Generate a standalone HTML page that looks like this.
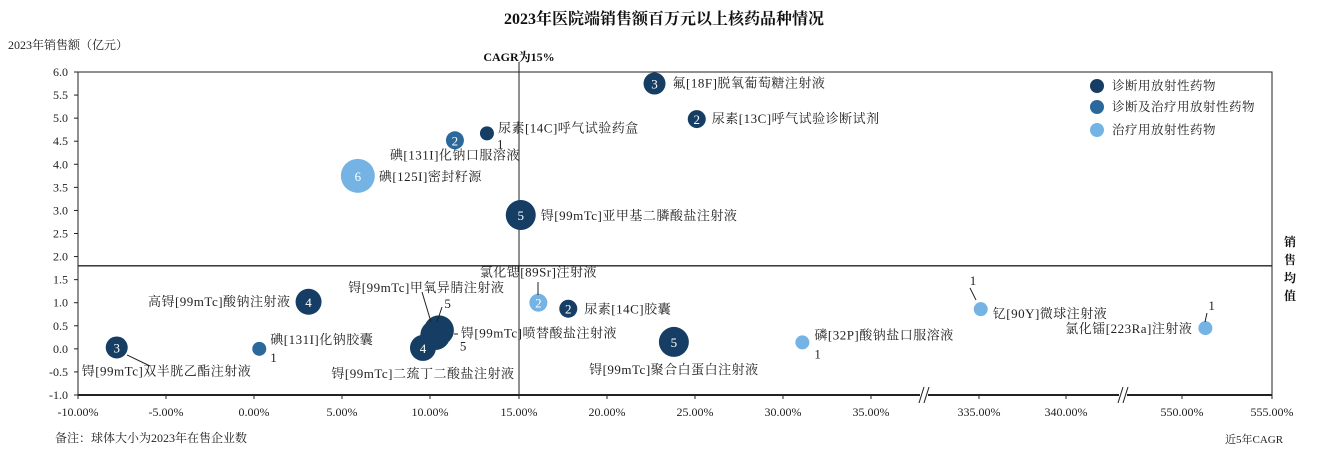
<!DOCTYPE html>
<html><head><meta charset="utf-8">
<style>
html,body{margin:0;padding:0;background:#fff;}
svg{display:block;font-family:"Liberation Serif","Noto Serif CJK SC",serif;}
</style></head>
<body>
<svg id="chart" width="1328" height="454" viewBox="0 0 1328 454" xmlns="http://www.w3.org/2000/svg">
<text x="664" y="24" text-anchor="middle" font-size="16" font-weight="bold" fill="#111">2023年医院端销售额百万元以上核药品种情况</text>
<text x="8" y="49" font-size="12" fill="#222">2023年销售额（亿元）</text>
<text x="519" y="61" text-anchor="middle" font-size="12" font-weight="bold" fill="#111">CAGR为15%</text>
<g id="axes"></g>
<g id="marks"></g>
<g>
 <circle cx="1097" cy="86" r="7" fill="#163d63"/><text x="1112" y="90" font-size="12.5" letter-spacing="0.5" fill="#222">诊断用放射性药物</text>
 <circle cx="1097" cy="107" r="7" fill="#2b689c"/><text x="1112" y="111" font-size="12.5" letter-spacing="0.5" fill="#222">诊断及治疗用放射性药物</text>
 <circle cx="1097" cy="130" r="7" fill="#74b3e3"/><text x="1112" y="134" font-size="12.5" letter-spacing="0.5" fill="#222">治疗用放射性药物</text>
</g>
<g font-size="12" font-weight="bold" fill="#111">
 <text x="1290" y="246" text-anchor="middle">销</text><text x="1290" y="264" text-anchor="middle">售</text>
 <text x="1290" y="282" text-anchor="middle">均</text><text x="1290" y="300" text-anchor="middle">值</text>
</g>
<text x="1225" y="443" font-size="11" fill="#222">近5年CAGR</text>
<text x="55" y="442" font-size="12" fill="#222">备注：球体大小为2023年在售企业数</text>
</svg>
<script>
const xTickValues=[-10,-5,0,5,10,15,20,25,30,35,335,340,550,555];
const xTickLabels=["-10.00%","-5.00%","0.00%","5.00%","10.00%","15.00%","20.00%","25.00%","30.00%","35.00%","335.00%","340.00%","550.00%","555.00%"];
const yTickValues=[-1,-0.5,0,0.5,1,1.5,2,2.5,3,3.5,4,4.5,5,5.5,6];
const names=["氟[18F]脱氧葡萄糖注射液","尿素[13C]呼气试验诊断试剂","尿素[14C]呼气试验药盒","碘[131I]化钠口服溶液","碘[125I]密封籽源","锝[99mTc]亚甲基二膦酸盐注射液","氯化锶[89Sr]注射液","尿素[14C]胶囊","高锝[99mTc]酸钠注射液","碘[131I]化钠胶囊","锝[99mTc]双半胱乙酯注射液","锝[99mTc]甲氧异腈注射液","锝[99mTc]喷替酸盐注射液","锝[99mTc]二巯丁二酸盐注射液","锝[99mTc]聚合白蛋白注射液","磷[32P]酸钠盐口服溶液","钇[90Y]微球注射液","氯化镭[223Ra]注射液"];
const cagr=[22.7,25.1,13.2,11.4,5.9,15.1,16.1,17.8,3.1,0.3,-7.8,10.3,10.5,9.6,23.8,31.1,335.1,551.3];
const sales=[5.75,4.98,4.67,4.52,3.75,2.9,1.0,0.87,1.02,0.0,0.03,0.3,0.4,0.02,0.15,0.14,0.86,0.45];
const firms=[3,2,1,2,6,5,2,2,4,1,3,5,5,4,5,1,1,1];
const types=[0,0,0,1,2,0,2,0,0,1,0,0,0,0,0,2,2,2];
const colors=["#163d63","#2b689c","#74b3e3"];
// layout: pixel x of each tick
const tickPx=[78,166,254,342,430,519,607,695,783,871,979,1066,1182,1272];
const yTop=72,yBot=395,yMin=-1,yMax=6,meanY=1.8,cagrLine=15;
function sx(v){for(let i=0;i<xTickValues.length-1;i++){const a=xTickValues[i],b=xTickValues[i+1];if(v<=b||i===xTickValues.length-2){return tickPx[i]+(v-a)/(b-a)*(tickPx[i+1]-tickPx[i]);}}}
function sy(v){return yBot-(v-yMin)/(yMax-yMin)*(yBot-yTop);}
function rr(n){return 5+n*2;}
const NS="http://www.w3.org/2000/svg";
function mk(t,p,at){const e=document.createElementNS(NS,t);for(const k in at)e.setAttribute(k,at[k]);p.appendChild(e);return e;}
const ax=document.getElementById('axes');
const x0=tickPx[0],x1=tickPx[tickPx.length-1];
let f=mk('rect',ax,{x:x0,y:yTop,width:x1-x0,height:yBot-yTop,fill:'none',stroke:'#222','stroke-width':1});


let xl=mk('line',ax,{x1:x0,x2:x1,y1:yBot,y2:yBot,stroke:'#222','stroke-width':2});


xTickValues.forEach((v,i)=>{const x=tickPx[i];
 mk('line',ax,{x1:x,x2:x,y1:yBot,y2:yBot+4,stroke:'#222'});
 const t=mk('text',ax,{x:x,y:yBot+21,'text-anchor':'middle','font-size':12,fill:'#222'});t.textContent=xTickLabels[i];
 
 
});
[(tickPx[9]+tickPx[10])/2,(tickPx[11]+tickPx[12])/2].forEach(bx=>{
 const g=mk('g',ax,{});
 
 
 mk('rect',g,{x:bx-5,y:yBot-3,width:8,height:6,fill:'#fff'});
 mk('line',g,{x1:bx-6,y1:yBot+8,x2:bx-1,y2:yBot-8,stroke:'#222'});
 mk('line',g,{x1:bx-1,y1:yBot+8,x2:bx+4,y2:yBot-8,stroke:'#222'});
});
yTickValues.forEach(v=>{const y=sy(v);
 mk('line',ax,{x1:x0-4,x2:x0,y1:y,y2:y,stroke:'#222'});
 const t=mk('text',ax,{x:x0-10,y:y+4,'text-anchor':'end','font-size':12,fill:'#222'});t.textContent=v.toFixed(1);
 
 
});
let ml=mk('line',ax,{x1:x0,x2:x1,y1:sy(meanY),y2:sy(meanY),stroke:'#222','stroke-width':1.3});


let cl=mk('line',ax,{x1:sx(cagrLine),x2:sx(cagrLine),y1:yTop-10,y2:yBot,stroke:'#222','stroke-width':1});


// label layout offsets (dx,dy,anchor) and count-label offsets
const lab=[[18,4,'start'],[15,4,'start'],[11,-1,'start'],[0,19,'middle'],[21,5,'start'],[20,5,'start'],[0,-26,'middle'],[16,5,'start'],[-18,4,'end'],[11,-5,'start'],[-35,28,'start'],[-9,-43,'middle'],[22,7,'start'],[0,30,'middle'],[0,32,'middle'],[12,-3,'start'],[12,9,'start'],[-13,5,'end']];
const cnt=[null,null,[10,15],null,null,null,null,null,null,[11,13],null,[9,-27],[21,20],null,null,[12,16],[-11,-24],[3,-18]];
const mk2=document.getElementById('marks');
const order=[4,11,12,13,0,1,2,3,5,6,7,8,9,10,14,15,16,17];
order.forEach(i=>{
 const cx=sx(cagr[i]),cy=sy(sales[i]),r=rr(firms[i]);
 const g=mk('g',mk2,{});
 
 
 mk('circle',g,{cx:cx,cy:cy,r:r,fill:colors[types[i]]});
 if(firms[i]>1 && i!==11 && i!==12){const t=mk('text',g,{x:cx,y:cy+5,'text-anchor':'middle','font-size':13,fill:'#fff'});t.textContent=firms[i];}
 const L=lab[i];const t=mk('text',g,{x:cx+L[0],y:cy+L[1],'text-anchor':L[2],'font-size':13,'letter-spacing':0.5,fill:'#222'});t.textContent=names[i];
 if(cnt[i]){const c=mk('text',g,{x:cx+cnt[i][0],y:cy+cnt[i][1],'font-size':13,fill:'#222'});c.textContent=firms[i];}
});
[[538,282,538,295],[127,355,150,366],[422,292,431,322],[442,307,437,322],[454,334,458,334],[970,288,976,300],[1207,313,1205,322]].forEach(p=>{
 const l=mk('line',mk2,{x1:p[0],y1:p[1],x2:p[2],y2:p[3],stroke:'#222','stroke-width':1});
 
 
});
</script>
</body></html>
